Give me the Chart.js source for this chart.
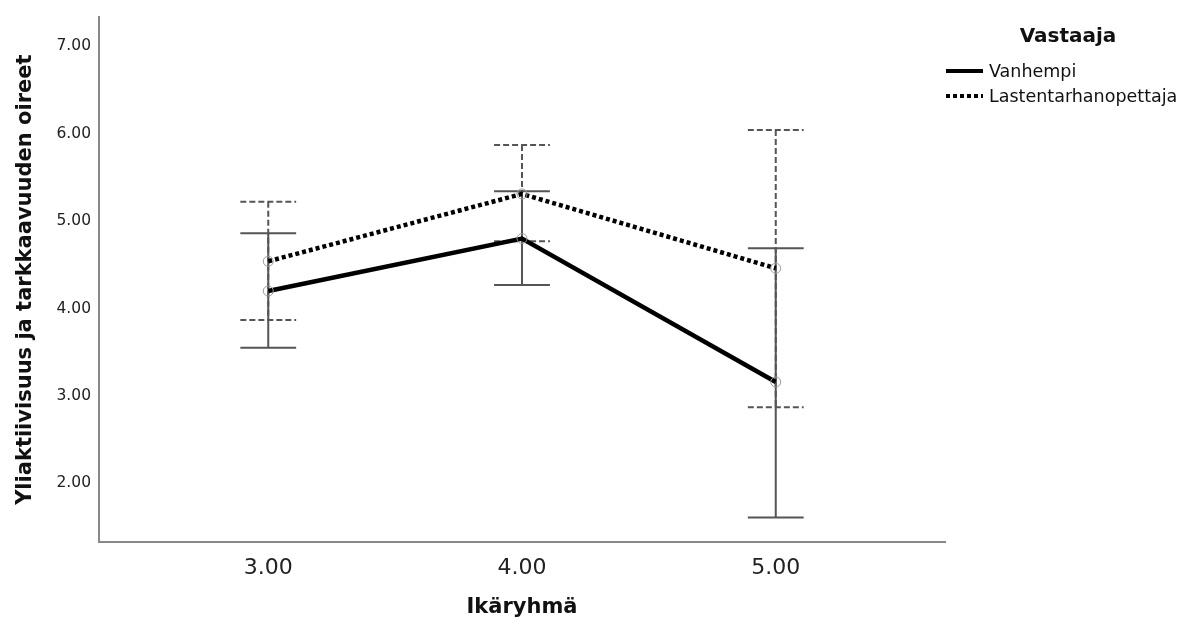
<!DOCTYPE html>
<html>
<head>
<meta charset="utf-8">
<script src="https://cdn.jsdelivr.net/npm/chart.js@4.4.1/dist/chart.umd.min.js"></script>
<style>
  body { margin: 0; background: #fff; font-family: "DejaVu Sans", sans-serif; }
  #wrap { position: relative; width: 1189px; height: 624px; }
  #legend-title { position: absolute; left: 968px; width: 200px; top: 23px; text-align: center;
    font-weight: bold; font-size: 20px; color: #111; }
  .item { position: absolute; left: 946px; font-size: 17.5px; color: #111; line-height: 20px; white-space: nowrap; }
  .swatch { display: inline-block; width: 37px; height: 4px; vertical-align: middle; margin-right: 6px; position: relative; top: -1px; }
  .solid { background: #000; }
  .dotted { background: repeating-linear-gradient(90deg, #000 0 4px, transparent 4px 7px); }
</style>
</head>
<body>
<div id="wrap">
  <canvas id="chart" width="1189" height="624"></canvas>
  <div id="legend-title">Vastaaja</div>
  <div class="item" style="top:61px"><span class="swatch solid"></span>Vanhempi</div>
  <div class="item" style="top:86px"><span class="swatch dotted"></span>Lastentarhanopettaja</div>
</div>
<script>
// age groups on the x axis
const ageGroups = [3, 4, 5];

// Vanhempi (parent): mean and error bar ends
const parentMeans = [4.20, 4.80, 3.16];
const parentLower = [3.55, 4.27, 1.61];
const parentUpper = [4.86, 5.34, 4.69];

// Lastentarhanopettaja (kindergarten teacher)
const teacherMeans = [4.54, 5.31, 4.46];
const teacherLower = [3.87, 4.77, 2.87];
const teacherUpper = [5.22, 5.87, 6.04];

const yTicks = [2, 3, 4, 5, 6, 7];

// draws the vertical error bars with caps under the lines
const errorBars = {
    id: 'errorBars',
    beforeDatasetsDraw(chart) {
        const { ctx, scales: { x, y } } = chart;
        const sets = [
            { lo: parentLower, hi: parentUpper, dash: [] },
            { lo: teacherLower, hi: teacherUpper, dash: [6, 3] }
        ];
        const capHalf = 0.11;
        ctx.save();
        ctx.strokeStyle = '#555';
        ctx.lineWidth = 2;
        sets.forEach(s => {
            ctx.setLineDash(s.dash);
            ageGroups.forEach((g, i) => {
                const px = x.getPixelForValue(g);
                const top = y.getPixelForValue(s.hi[i]);
                const bot = y.getPixelForValue(s.lo[i]);
                const l = x.getPixelForValue(g - capHalf);
                const r = x.getPixelForValue(g + capHalf);
                ctx.beginPath();
                ctx.moveTo(px, top); ctx.lineTo(px, bot);
                ctx.moveTo(l, top); ctx.lineTo(r, top);
                ctx.moveTo(l, bot); ctx.lineTo(r, bot);
                ctx.stroke();
            });
        });
        ctx.restore();
    }
};

const pointStyle = {
    pointRadius: 5,
    pointBorderColor: '#999',
    pointBackgroundColor: 'rgba(0,0,0,0)',
    pointBorderWidth: 1,
    borderColor: '#000',
    borderWidth: 4.5,
    tension: 0,
    fill: false
};

new Chart(document.getElementById('chart'), {
    type: 'line',
    data: {
        datasets: [
            {
                label: 'Vanhempi',
                data: ageGroups.map((g, i) => ({ x: g, y: parentMeans[i] })),
                ...pointStyle
            },
            {
                label: 'Lastentarhanopettaja',
                data: ageGroups.map((g, i) => ({ x: g, y: teacherMeans[i] })),
                borderDash: [4, 3],
                ...pointStyle
            }
        ]
    },
    options: {
        responsive: false,
        animation: false,
        layout: { padding: { left: 0, right: 244, top: 14, bottom: 0 } },
        plugins: {
            legend: { display: false },
            tooltip: { enabled: false }
        },
        scales: {
            x: {
                type: 'linear',
                min: 2.333,
                max: 5.667,
                afterBuildTicks: s => { s.ticks = ageGroups.map(v => ({ value: v })); },
                afterFit: s => { s.height = 82; },
                grid: { display: false, drawTicks: false },
                border: { display: true, color: '#888', width: 2 },
                ticks: {
                    callback: v => v.toFixed(2),
                    font: { family: 'DejaVu Sans', size: 22 },
                    color: '#222',
                    padding: 13
                },
                title: {
                    display: true,
                    text: 'Ikäryhmä',
                    font: { family: 'DejaVu Sans', size: 21, weight: 'bold' },
                    color: '#111',
                    padding: { top: 0, bottom: 4 }
                }
            },
            y: {
                min: 1.33,
                max: 7.33,
                afterBuildTicks: s => { s.ticks = yTicks.map(v => ({ value: v })); },
                afterFit: s => { s.width = 99; },
                grid: { display: false, drawTicks: false },
                border: { display: true, color: '#888', width: 2 },
                ticks: {
                    callback: v => v.toFixed(2),
                    font: { family: 'DejaVu Sans', size: 15.5 },
                    color: '#222',
                    padding: 8
                },
                title: {
                    display: true,
                    text: 'Yliaktiivisuus ja tarkkaavuuden oireet',
                    font: { family: 'DejaVu Sans', size: 21, weight: 'bold' },
                    color: '#111',
                    padding: { top: 13, bottom: 0 }
                }
            }
        }
    },
    plugins: [errorBars]
});
</script>
</body>
</html>
